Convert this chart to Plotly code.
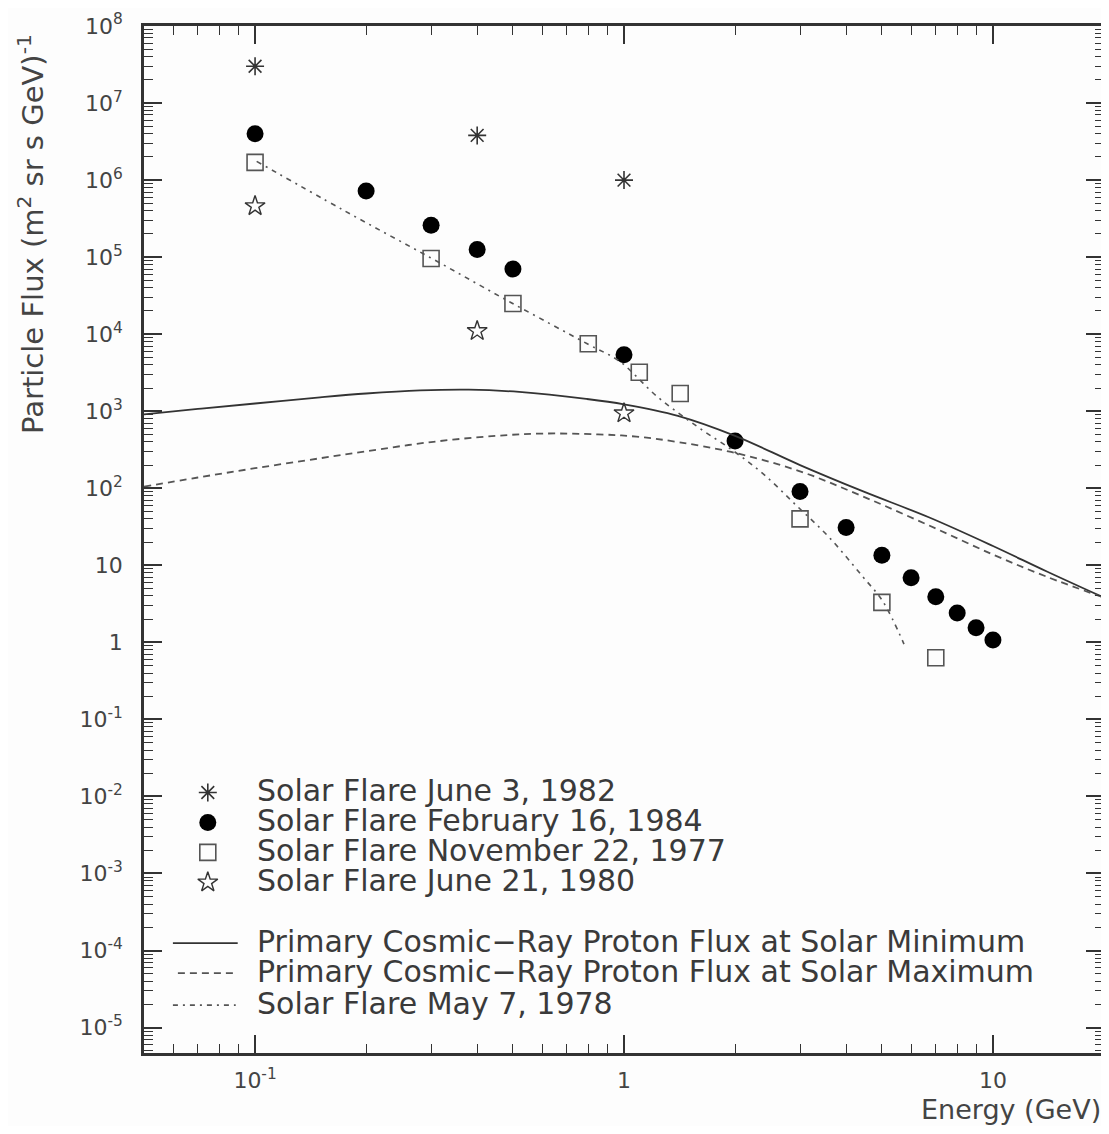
import plotly.graph_objects as go

# ---------------- data ----------------
june1982_x = [0.1, 0.4, 1.0]
june1982_y = [3.0e7, 3.8e6, 1.0e6]

feb1984_x = [0.1, 0.2, 0.3, 0.4, 0.5, 1.0, 2.0, 3.0, 4.0, 5.0, 6.0, 7.0, 8.0, 9.0, 10.0]
feb1984_y = [4.0e6, 7.2e5, 2.6e5, 1.26e5, 7.0e4, 5.4e3, 410, 91, 31, 13.5, 6.9, 3.9, 2.4, 1.55, 1.07]

nov1977_x = [0.1, 0.3, 0.5, 0.8, 1.1, 1.42, 3.0, 5.0, 7.0]
nov1977_y = [1.7e6, 9.6e4, 2.5e4, 7.5e3, 3.2e3, 1.7e3, 40, 3.3, 0.63]

june1980_x = [0.1, 0.4, 1.0]
june1980_y = [4.6e5, 1.1e4, 940]

may1978_x = [0.101, 0.173, 0.298, 0.492, 0.795, 0.975, 1.228, 1.574, 1.98, 2.38, 2.93, 3.6, 4.44, 5.03, 5.74]
may1978_y = [1.75e6, 4.1e5, 9.9e4, 2.6e4, 7.5e3, 4.4e3, 1.56e3, 640, 305, 155, 60, 23, 7.1, 3.4, 0.95]

solmin_x = [0.05, 0.07, 0.1, 0.15, 0.2, 0.28, 0.38, 0.52, 0.79, 1.0, 1.4, 2.0, 3.0, 4.45, 6.7, 10, 14, 20]
solmin_y = [912, 1072, 1259, 1514, 1698, 1862, 1905, 1778, 1445, 1230, 871, 479, 200, 91, 42, 17.8, 8.3, 3.8]

solmax_x = [0.05, 0.07, 0.1, 0.15, 0.2, 0.3, 0.45, 0.6, 0.85, 1.08, 1.4, 2.0, 3.0, 4.45, 6.7, 10, 14, 20]
solmax_y = [105, 138, 182, 245, 302, 398, 479, 513, 501, 468, 398, 288, 166, 78, 33, 13.8, 7.1, 3.8]

series_names = [
    "Solar Flare June 3, 1982",
    "Solar Flare February 16, 1984",
    "Solar Flare November 22, 1977",
    "Solar Flare June 21, 1980",
    "Primary Cosmic\u2212Ray Proton Flux at Solar Minimum",
    "Primary Cosmic\u2212Ray Proton Flux at Solar Maximum",
    "Solar Flare May 7, 1978",
]

y_tickvals = [1e-5, 1e-4, 1e-3, 1e-2, 1e-1, 1, 10, 1e2, 1e3, 1e4, 1e5, 1e6, 1e7, 1e8]
y_ticktext = ["10<sup>-5</sup>", "10<sup>-4</sup>", "10<sup>-3</sup>", "10<sup>-2</sup>",
              "10<sup>-1</sup>", "1", "10", "10<sup>2</sup>", "10<sup>3</sup>",
              "10<sup>4</sup>", "10<sup>5</sup>", "10<sup>6</sup>", "10<sup>7</sup>",
              "10<sup>8</sup>"]
x_tickvals = [0.1, 1, 10]
x_ticktext = ["10<sup>-1</sup>", "1", "10"]

# minor ticks (2..9 of each decade)
y_minor = [m * 10.0 ** e for e in range(-6, 8) for m in range(2, 10)]
x_minor = [m * 10.0 ** e for e in range(-2, 2) for m in range(2, 10)]

FONT = "DejaVu Sans"
INK = "#333333"
GREY = "#555555"

# styles
sty_ast = dict(symbol="asterisk-open", size=15, color=INK, line=dict(width=1.6, color=INK))
sty_cir = dict(symbol="circle", size=17, color="black", line=dict(width=0))
sty_sq = dict(symbol="square-open", size=16, color=GREY, line=dict(width=1.6, color=GREY))
sty_star = dict(symbol="star-open", size=15, color=INK, line=dict(width=1.4, color=INK))
ln_min = dict(color=INK, width=1.8)
ln_max = dict(color=GREY, width=1.8, dash="7px,5px")
ln_dd = dict(color=GREY, width=1.6, dash="5px,5px,2px,5px")

fig = go.Figure()

fig.add_trace(go.Scatter(x=june1982_x, y=june1982_y, mode="markers",
                         name=series_names[0], marker=sty_ast))
fig.add_trace(go.Scatter(x=feb1984_x, y=feb1984_y, mode="markers",
                         name=series_names[1], marker=sty_cir))
fig.add_trace(go.Scatter(x=nov1977_x, y=nov1977_y, mode="markers",
                         name=series_names[2], marker=sty_sq))
fig.add_trace(go.Scatter(x=june1980_x, y=june1980_y, mode="markers",
                         name=series_names[3], marker=sty_star))
fig.add_trace(go.Scatter(x=solmin_x, y=solmin_y, mode="lines",
                         name=series_names[4], line=dict(**ln_min, shape="spline")))
fig.add_trace(go.Scatter(x=solmax_x, y=solmax_y, mode="lines",
                         name=series_names[5], line=dict(**ln_max, shape="spline")))
fig.add_trace(go.Scatter(x=may1978_x, y=may1978_y, mode="lines",
                         name=series_names[6], line=dict(**ln_dd, shape="spline")))

# ---------------- hand-placed legend (keys on an invisible 0..1 overlay) -------------
# The page body has an 8px margin; the figure is sized so that the plot frame
# lands at x 144..1107, y 24..1053 of the window.
PX0, PX1, PY0, PY1 = 144.0, 1107.0, 24.0, 1053.0
def px(x):
    return (x - PX0) / (PX1 - PX0)
def py(y):
    return (PY1 - y) / (PY1 - PY0)

key_x = px(208)
marker_rows = [792, 822, 852, 882]
line_rows = [943, 973, 1005]
for sty, row in zip([sty_ast, sty_cir, sty_sq, sty_star], marker_rows):
    fig.add_trace(go.Scatter(x=[key_x], y=[py(row)], mode="markers", marker=sty,
                             xaxis="x2", yaxis="y2", showlegend=False,
                             hoverinfo="skip"))

shapes = []
for ln, row, (x0, x1) in zip([ln_min, ln_max, ln_dd], line_rows,
                             [(173, 238), (178, 238), (173, 236)]):
    shapes.append(dict(type="line", xref="paper", yref="paper",
                       x0=px(x0), x1=px(x1), y0=py(row), y1=py(row),
                       line=dict(color=ln["color"], width=ln["width"],
                                 dash=ln.get("dash", "solid"))))

annotations = []
for name, row in zip(series_names, marker_rows + line_rows):
    annotations.append(dict(text=name, xref="paper", yref="paper",
                            x=px(255), y=py(row - 2), xanchor="left", yanchor="middle",
                            showarrow=False,
                            font=dict(family=FONT, size=30, color="#3a3a3a")))

annotations.append(dict(text="Particle Flux (m<sup>2</sup> sr s GeV)<sup>-1</sup>",
                        xref="paper", yref="paper", x=px(30), y=py(232),
                        xanchor="center", yanchor="middle", textangle=-90,
                        showarrow=False,
                        font=dict(family=FONT, size=29, color="#444444")))
annotations.append(dict(text="Energy (GeV)", xref="paper", yref="paper",
                        x=px(1106), y=py(1110), xanchor="right", yanchor="middle",
                        showarrow=False,
                        font=dict(family=FONT, size=27, color="#444444")))

axis_common = dict(
    type="log", showline=True, linewidth=2.5, linecolor=INK, mirror="allticks",
    ticks="inside", ticklen=18, tickwidth=1.5, tickcolor=INK, showgrid=False,
    zeroline=False, tickmode="array",
    tickfont=dict(family=FONT, size=22, color="#444444"),
)

xaxis = dict(axis_common, range=[-1.30103, 1.30103],
             tickvals=x_tickvals, ticktext=x_ticktext, ticklabelstandoff=6,
             minor=dict(tickmode="array", tickvals=x_minor, ticks="inside",
                        ticklen=9, tickwidth=1.3, tickcolor=INK))
yaxis = dict(axis_common, range=[-5.33, 8.0],
             tickvals=y_tickvals, ticktext=y_ticktext, ticklabelstandoff=14,
             minor=dict(tickmode="array", tickvals=y_minor, ticks="inside",
                        ticklen=9, tickwidth=1.3, tickcolor=INK))

fig.update_layout(
    width=1101, height=1118,
    margin=dict(l=136, r=2, t=16, b=73),
    paper_bgcolor="#fdfdfd", plot_bgcolor="#fdfdfd",
    font=dict(family=FONT, color=INK),
    showlegend=False,
    xaxis=xaxis,
    yaxis=yaxis,
    xaxis2=dict(overlaying="x", anchor="y2", range=[0, 1], visible=False, fixedrange=True),
    yaxis2=dict(overlaying="y", anchor="x2", range=[0, 1], visible=False, fixedrange=True),
    shapes=shapes,
    annotations=annotations,
)

fig.write_html("out.html")
